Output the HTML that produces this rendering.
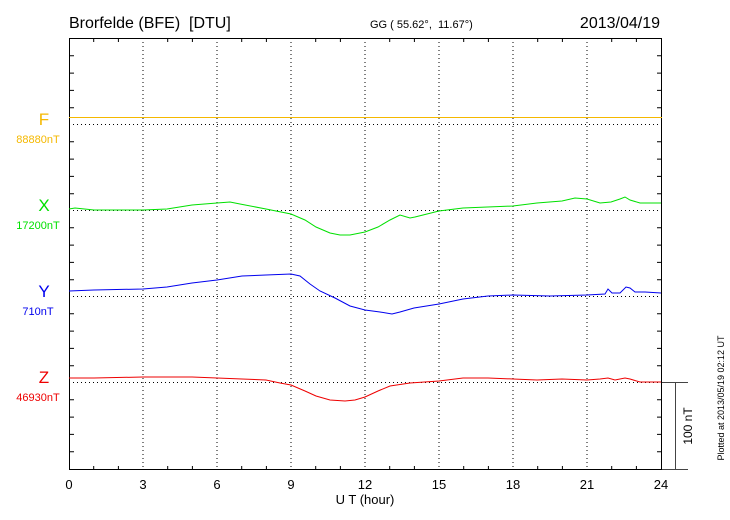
<!DOCTYPE html>
<html><head><meta charset="utf-8"><style>
html,body{margin:0;padding:0;background:#fff;}
svg{display:block;font-family:"Liberation Sans",sans-serif;}
</style></head><body>
<svg width="730" height="520" viewBox="0 0 730 520" xmlns="http://www.w3.org/2000/svg">
<rect width="730" height="520" fill="#fff"/>
<text x="69" y="28" font-size="16" style="white-space:pre">Brorfelde (BFE)  [DTU]</text>
<text x="370" y="28" font-size="11" style="white-space:pre">GG ( 55.62°,  11.67°)</text>
<text x="660" y="28" font-size="16" text-anchor="end">2013/04/19</text>
<g stroke="#000" stroke-width="1" stroke-dasharray="1,3">
<line x1="143" y1="38" x2="143" y2="470"/><line x1="217" y1="38" x2="217" y2="470"/>
<line x1="291" y1="38" x2="291" y2="470"/><line x1="365" y1="38" x2="365" y2="470"/>
<line x1="439" y1="38" x2="439" y2="470"/><line x1="513" y1="38" x2="513" y2="470"/>
<line x1="587" y1="38" x2="587" y2="470"/>
<line x1="69" y1="124.5" x2="662" y2="124.5"/><line x1="69" y1="210.5" x2="662" y2="210.5"/>
<line x1="69" y1="296.5" x2="662" y2="296.5"/><line x1="69" y1="382.5" x2="662" y2="382.5"/>
</g>
<rect x="69.5" y="38.5" width="592" height="431" fill="none" stroke="#000"/>
<g stroke="#000">
<path d="M69 55.8h5M69 73.1h5M69 90.4h5M69 107.7h5M69 141.8h5M69 159.1h5M69 176.4h5M69 193.7h5M69 227.8h5M69 245.1h5M69 262.4h5M69 279.7h5M69 313.8h5M69 331.1h5M69 348.4h5M69 365.7h5M69 399.8h5M69 417.1h5M69 434.4h5M69 451.7h5"/>
<path d="M662 55.8h-5M662 73.1h-5M662 90.4h-5M662 107.7h-5M662 141.8h-5M662 159.1h-5M662 176.4h-5M662 193.7h-5M662 227.8h-5M662 245.1h-5M662 262.4h-5M662 279.7h-5M662 313.8h-5M662 331.1h-5M662 348.4h-5M662 365.7h-5M662 399.8h-5M662 417.1h-5M662 434.4h-5M662 451.7h-5"/>
<path d="M93.7 38v4M118.4 38v4M167.7 38v4M192.4 38v4M241.7 38v4M266.4 38v4M315.7 38v4M340.4 38v4M389.7 38v4M414.4 38v4M463.7 38v4M488.4 38v4M537.7 38v4M562.4 38v4M611.7 38v4M636.4 38v4"/>
<path d="M93.7 470v-4M118.4 470v-4M167.7 470v-4M192.4 470v-4M241.7 470v-4M266.4 470v-4M315.7 470v-4M340.4 470v-4M389.7 470v-4M414.4 470v-4M463.7 470v-4M488.4 470v-4M537.7 470v-4M562.4 470v-4M611.7 470v-4M636.4 470v-4"/>
<path d="M662 382.5h26M675.5 382v88M662 469.5h26" stroke="#444"/>
</g>
<g font-size="13" text-anchor="middle">
<text x="69" y="489">0</text><text x="143" y="489">3</text><text x="217" y="489">6</text>
<text x="291" y="489">9</text><text x="365" y="489">12</text><text x="439" y="489">15</text>
<text x="513" y="489">18</text><text x="587" y="489">21</text><text x="661" y="489">24</text>
<text x="365" y="504">U T (hour)</text>
</g>
<text transform="translate(692,426) rotate(-90)" font-size="12" text-anchor="middle">100 nT</text>
<text transform="translate(724,398) rotate(-90)" font-size="9" text-anchor="middle">Plotted at 2013/05/19 02:12 UT</text>
<g text-anchor="middle">
<text x="44" y="125" font-size="17" fill="#f5b800">F</text>
<text x="38" y="143" font-size="11" fill="#f5b800">88880nT</text>
<text x="44" y="211" font-size="17" fill="#00e000">X</text>
<text x="38" y="229" font-size="11" fill="#00e000">17200nT</text>
<text x="44" y="297" font-size="17" fill="#0000ee">Y</text>
<text x="38" y="315" font-size="11" fill="#0000ee">710nT</text>
<text x="44" y="383" font-size="17" fill="#ee0000">Z</text>
<text x="38" y="401" font-size="11" fill="#ee0000">46930nT</text>
</g>
<line x1="69" y1="117.5" x2="662" y2="117.5" stroke="#f5b800"/>
<polyline fill="none" stroke="#00e000" points="69,209 75,208 94,210 143,210 167,209 192,205 217,203 230,202 240,204 266,209 291,214 305,220 316,227 330,233 340,235 350,235 365,232 378,227 390,220 400,215 410,218 415,217 439,211 463,208 513,206 537,203 562,201 575,198 587,199 600,203 611,202 620,199 625,197 630,200 640,203 661,203"/>
<polyline fill="none" stroke="#0000ee" points="69,291 94,290 143,289 167,287 192,283 217,280 242,276 266,275 291,274 300,276 310,284 320,291 335,298 350,306 365,310 380,312 392,314 400,312 414,308 439,304 463,299 488,296 513,295 550,296 587,295 605,294 608,289 612,293 620,293 626,287 630,288 635,292 645,292 661,293"/>
<polyline fill="none" stroke="#ee0000" points="69,378 94,378 143,377 192,377 217,378 242,379 266,380 280,383 291,385 305,391 316,396 330,400 345,401 355,400 365,397 378,391 390,386 410,383 439,381 463,378 488,378 513,379 537,380 562,379 587,380 600,379 608,378 615,380 625,378 630,379 640,382 661,382"/>
</svg>
</body></html>
